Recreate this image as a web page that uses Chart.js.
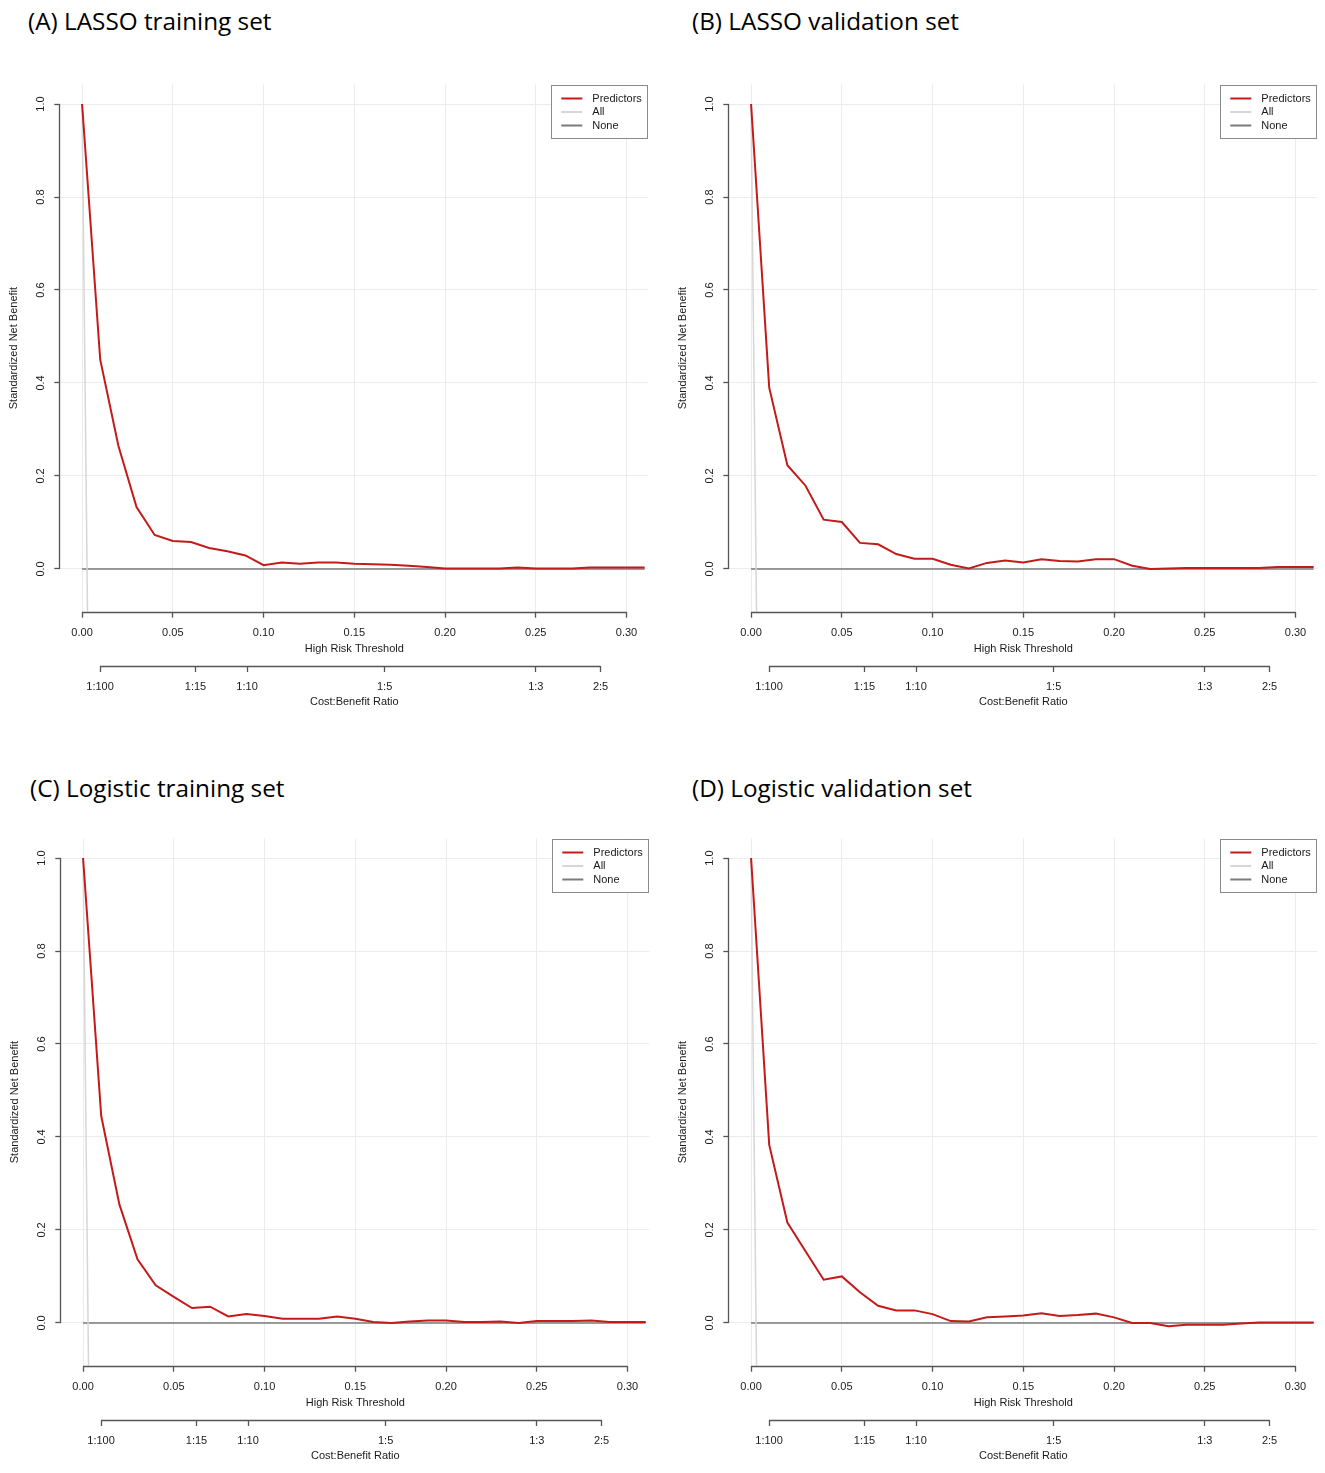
<!DOCTYPE html>
<html>
<head>
<meta charset="utf-8">
<script src="https://cdn.jsdelivr.net/npm/chart.js@4.4.1/dist/chart.umd.min.js"></script>
<style>
  body { margin: 0; background: #fff; width: 1325px; height: 1473px; position: relative; overflow: hidden; }
  .title { position: absolute; font-family: "Open Sans", Lato, sans-serif; font-size: 24.3px; line-height: 24.3px; color: #000; white-space: nowrap; }
  canvas { position: absolute; }
</style>
</head>
<body>
<div class="title" style="left:28px;top:9px">(A) LASSO training set</div>
<div class="title" style="left:692px;top:9px">(B) LASSO validation set</div>
<div class="title" style="left:30px;top:776px">(C) Logistic training set</div>
<div class="title" style="left:692px;top:776px">(D) Logistic validation set</div>

<canvas id="chartA" width="655" height="675" style="left:0px;top:40px"></canvas>
<canvas id="chartB" width="655" height="675" style="left:669px;top:40px"></canvas>
<canvas id="chartC" width="655" height="675" style="left:1px;top:794px"></canvas>
<canvas id="chartD" width="655" height="675" style="left:669px;top:794px"></canvas>

<script>
// threshold probabilities used by the decision curves
const thresholds = [0, 0.01, 0.02, 0.03, 0.04, 0.05, 0.06, 0.07, 0.08, 0.09, 0.10,
  0.11, 0.12, 0.13, 0.14, 0.15, 0.16, 0.17, 0.18, 0.19, 0.20,
  0.21, 0.22, 0.23, 0.24, 0.25, 0.26, 0.27, 0.28, 0.29, 0.30, 0.31];

// standardized net benefit of the predictors model
const predA = [1.0, 0.45, 0.265, 0.133, 0.073, 0.060, 0.058, 0.045, 0.038, 0.029, 0.008,
  0.014, 0.011, 0.014, 0.014, 0.011, 0.010, 0.009, 0.007, 0.004, 0.001,
  0.001, 0.001, 0.001, 0.003, 0.001, 0.001, 0.001, 0.003, 0.003, 0.003, 0.003];
const predB = [1.0, 0.39, 0.223, 0.179, 0.106, 0.101, 0.056, 0.053, 0.032, 0.022, 0.022,
  0.009, 0.001, 0.013, 0.018, 0.014, 0.021, 0.017, 0.016, 0.021, 0.021,
  0.007, 0.000, 0.001, 0.002, 0.002, 0.002, 0.002, 0.002, 0.004, 0.004, 0.004];
const predC = [1.0, 0.445, 0.255, 0.137, 0.081, 0.056, 0.032, 0.035, 0.014, 0.019, 0.015,
  0.009, 0.009, 0.009, 0.014, 0.009, 0.002, 0.000, 0.003, 0.005, 0.005,
  0.002, 0.002, 0.003, 0.000, 0.004, 0.004, 0.004, 0.005, 0.002, 0.002, 0.002];
const predD = [1.0, 0.383, 0.216, 0.154, 0.093, 0.100, 0.066, 0.037, 0.027, 0.027, 0.019,
  0.004, 0.003, 0.012, 0.014, 0.016, 0.021, 0.015, 0.017, 0.020, 0.012,
  0.000, 0.000, -0.007, -0.004, -0.004, -0.004, -0.001, 0.001, 0.001, 0.001, 0.001];

// "treat all" and "treat none" reference lines
const allX = [0, 0.003];
const allY = [1.0, -0.092];
const noneX = [0, 0.31];
const noneY = [0, 0];

// axis ticks
const xTicks = [0, 0.05, 0.10, 0.15, 0.20, 0.25, 0.30];
const yTicks = [0, 0.2, 0.4, 0.6, 0.8, 1.0];
const cbTicks = [0.0099, 0.0625, 0.0909, 0.1667, 0.25, 0.2857];
const cbLabels = ['1:100', '1:15', '1:10', '1:5', '1:3', '2:5'];

const seriesNames = ['Predictors', 'All', 'None'];

const axisColor = '#555555';
const gridColor = '#ececec';
const textColor = '#1a1a1a';
const smallFont = { family: '"Liberation Sans", Arial, sans-serif', size: 11 };

const pts = (xs, ys) => xs.map((x, i) => ({ x: x, y: ys[i] }));

// R style axis lines: only from the first to the last tick
const axisLines = {
  id: 'axisLines',
  afterDraw(chart) {
    const ctx = chart.ctx;
    ctx.save();
    ctx.strokeStyle = axisColor;
    ctx.lineWidth = 1.3;
    ['x', 'cb'].forEach(id => {
      const s = chart.scales[id];
      const a = s.getPixelForValue(s.ticks[0].value);
      const b = s.getPixelForValue(s.ticks[s.ticks.length - 1].value);
      const yy = Math.round(s.top) + 0.5;
      ctx.beginPath(); ctx.moveTo(a, yy); ctx.lineTo(b, yy); ctx.stroke();
    });
    const ys = chart.scales.y;
    const yTop = ys.getPixelForValue(yTicks[yTicks.length - 1]);
    const yBot = ys.getPixelForValue(yTicks[0]);
    const xx = Math.round(chart.chartArea.left) - 0.5;
    ctx.beginPath(); ctx.moveTo(xx, yBot); ctx.lineTo(xx, yTop); ctx.stroke();
    ctx.restore();
  }
};

// boxed legend in the top right corner of the plot
const boxLegend = {
  id: 'boxLegend',
  afterDraw(chart) {
    const ctx = chart.ctx;
    const area = chart.chartArea;
    const w = 97, h = 54;
    const left = area.right - w, top = area.top;
    ctx.save();
    ctx.fillStyle = '#fff';
    ctx.fillRect(left, top, w, h);
    ctx.strokeStyle = '#8a8a8a';
    ctx.lineWidth = 1;
    ctx.strokeRect(Math.round(left) + 0.5, Math.round(top) + 0.5, w - 1, h - 1);
    ctx.font = '11px "Liberation Sans", Arial, sans-serif';
    ctx.textBaseline = 'middle';
    chart.data.datasets.forEach((ds, i) => {
      const yy = top + 14 + i * 13.5;
      ctx.strokeStyle = ds.borderColor;
      ctx.lineWidth = 2;
      ctx.beginPath(); ctx.moveTo(left + 10, yy); ctx.lineTo(left + 31, yy); ctx.stroke();
      ctx.fillStyle = textColor;
      ctx.fillText(ds.label, left + 41, yy);
    });
    ctx.restore();
  }
};

function makeChart(id, pred) {
  new Chart(document.getElementById(id), {
    type: 'line',
    data: {
      datasets: [
        { label: seriesNames[0], data: pts(thresholds, pred), borderColor: '#c41a1a', borderWidth: 2 },
        { label: seriesNames[1], data: pts(allX, allY), borderColor: '#d6d6d6', borderWidth: 1.5 },
        { label: seriesNames[2], data: pts(noneX, noneY), borderColor: '#7a7a7a', borderWidth: 1.5 }
      ]
    },
    options: {
      responsive: false,
      animation: false,
      elements: { point: { radius: 0 }, line: { tension: 0 } },
      layout: { padding: { left: 0, right: 6.7, top: 44.5, bottom: 5 } },
      plugins: { legend: { display: false }, tooltip: { enabled: false } },
      scales: {
        x: {
          type: 'linear', position: 'bottom', min: -0.012, max: 0.312, weight: 0,
          afterBuildTicks: s => { s.ticks = xTicks.map(v => ({ value: v })); },
          afterFit: s => { s.height = 54.3; },
          border: { display: false },
          grid: { color: gridColor, lineWidth: 1, tickColor: axisColor, tickLength: 6, tickWidth: 1.3 },
          ticks: { autoSkip: false, maxRotation: 0, minRotation: 0, padding: 8.6, color: textColor, font: smallFont,
                   callback: v => v.toFixed(2) },
          title: { display: true, text: 'High Risk Threshold', color: textColor, font: smallFont,
                   padding: { top: 0, bottom: 10.4 } }
        },
        cb: {
          type: 'linear', position: 'bottom', min: -0.012, max: 0.312, weight: 1,
          afterBuildTicks: s => { s.ticks = cbTicks.map(v => ({ value: v })); },
          afterFit: s => { s.height = 44; },
          border: { display: false },
          grid: { drawOnChartArea: false, color: axisColor, tickColor: axisColor, tickLength: 6, tickWidth: 1.3 },
          ticks: { autoSkip: false, maxRotation: 0, minRotation: 0, padding: 8, color: textColor, font: smallFont,
                   callback: (v, i) => cbLabels[i] },
          title: { display: true, text: 'Cost:Benefit Ratio', color: textColor, font: smallFont,
                   padding: { top: 0, bottom: 1.7 } }
        },
        y: {
          type: 'linear', position: 'left', min: -0.092, max: 1.042,
          afterBuildTicks: s => { s.ticks = yTicks.map(v => ({ value: v })); },
          afterFit: s => { s.width = 60.3; },
          border: { display: false },
          grid: { color: gridColor, lineWidth: 1, tickColor: axisColor, tickLength: 6, tickWidth: 1.3 },
          ticks: { autoSkip: false, minRotation: 90, maxRotation: 90, crossAlign: 'center', padding: 5.4,
                   color: textColor, font: smallFont, callback: v => v.toFixed(1) },
          title: { display: true, text: 'Standardized Net Benefit', color: textColor, font: smallFont,
                   padding: { top: 7.4, bottom: 0 } }
        }
      }
    },
    plugins: [axisLines, boxLegend]
  });
}

makeChart('chartA', predA);
makeChart('chartB', predB);
makeChart('chartC', predC);
makeChart('chartD', predD);
</script>
</body>
</html>
